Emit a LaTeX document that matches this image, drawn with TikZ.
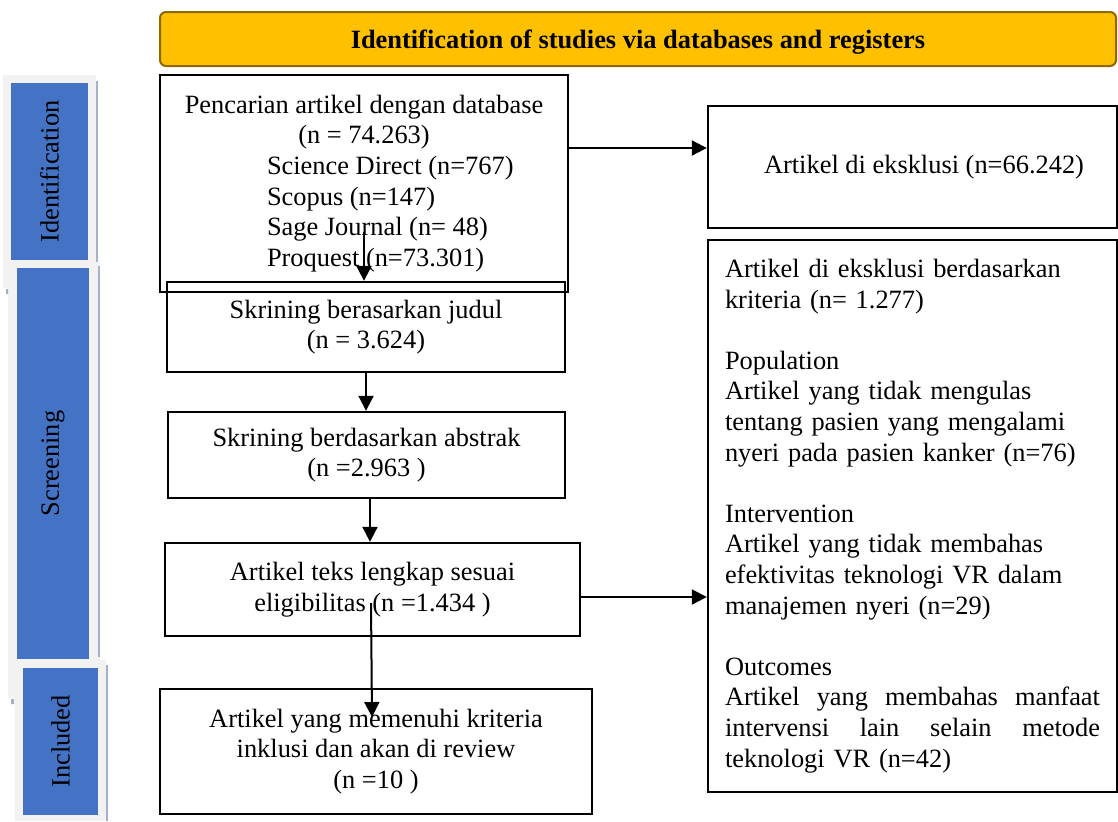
\documentclass[tikz,border=0pt]{standalone}
\usepackage{fontspec}
\setmainfont{Liberation Serif}
\usetikzlibrary{arrows.meta}
\definecolor{tabblue}{HTML}{4472C4}
\definecolor{tabpanel}{HTML}{F2F2F2}
\definecolor{tabedge}{HTML}{A4B1C8}
\definecolor{headfill}{HTML}{FFC000}
\definecolor{headedge}{HTML}{8C6A00}
\begin{document}
\begin{tikzpicture}[x=0.5pt, y=-0.5pt, font=\fontsize{13.2pt}{15.3pt}\selectfont, >={Triangle[length=7.5pt,width=7.5pt]},
		box/.style={draw, line width=1.2pt, inner sep=0pt, align=center},
		tab/.style={fill=tabblue, inner sep=0pt, rotate=90},
		arr/.style={->, line width=1pt}]
	\useasboundingbox (0,0) rectangle (1118,821);
	\fill[tabpanel] (3,75) rectangle (96,288);
	\fill[tabpanel] (8,262) rectangle (100,698);
	\fill[tabpanel] (15,660) rectangle (106,821);
	\node[tab, minimum width=88.5pt, minimum height=38.5pt] (ident) at (49.5,171.5) {Identification};
	\node[tab, minimum width=195.5pt, minimum height=36pt] (screen) at (53,463.5) {Screening};
	\node[tab, minimum width=73.5pt, minimum height=37.5pt] (inclu) at (60.5,741.5) {Included};
	\draw[tabedge, line width=1pt] (97,81)--(97,262) (99,266)--(99,657) (107,665)--(107,821);
	\fill[tabedge] (6,289) rectangle (8,294) (11,699) rectangle (14,704);
	\node[box, draw=headedge, fill=headfill, line width=1pt, rounded corners=3pt, minimum width=478pt, minimum height=27pt, font=\fontsize{13.2pt}{15.3pt}\selectfont\bfseries] (head) at (638,39) {\raisebox{-1.5pt}[\height][\depth]{Identification of studies via databases and registers}};
	\node[box, minimum width=204pt, minimum height=108.5pt] (search) at (364,183.5) {Pencarian artikel dengan database\\ (n = 74.263)\\ \makebox[97pt][l]{Science Direct (n=767)}\\ \makebox[97pt][l]{Scopus (n=147)}\\ \makebox[97pt][l]{Sage Journal (n= 48)}\\ \makebox[97pt][l]{Proquest (n=73.301)}};
	\node[box, minimum width=199pt, minimum height=45pt] (judul) at (366,327) {Skrining berasarkan judul\\ (n = 3.624)};
	\node[box, minimum width=198.5pt, minimum height=43pt] (abstrak) at (366.5,455) {Skrining berdasarkan abstrak\\ (n =2.963 )};
	\node[box, minimum width=207.5pt, minimum height=46.5pt] (teks) at (372.5,589.5) {Artikel teks lengkap sesuai\\ eligibilitas (n =1.434 )};
	\node[box, minimum width=216pt, minimum height=62.5pt] (incl) at (376,751.5) {Artikel yang memenuhi kriteria\\ inklusi dan akan di review\\ (n =10 )};
	\node[box, minimum width=204.5pt, minimum height=61pt] (excl) at (912.5,167) {\hspace*{11.5pt}Artikel di eksklusi (n=66.242)};
	\node[box, minimum width=204.5pt, minimum height=276pt, text width=187.5pt, align=left] (crit) at (912.5,516) {Artikel di eksklusi berdasarkan\\ kriteria (n= 1.277)\\[15.3pt]
		Population\\ Artikel yang tidak mengulas\\ tentang pasien yang mengalami\\ nyeri pada pasien kanker (n=76)\\[15.3pt]
		Intervention\\ Artikel yang tidak membahas\\ efektivitas teknologi VR dalam\\ manajemen nyeri (n=29)\\[15.3pt]
		Outcomes\\ \makebox[187.5pt][l]{Artikel\hfill yang\hfill membahas\hfill manfaat}\\ \makebox[187.5pt][l]{intervensi\hfill lain\hfill selain\hfill metode}\\ teknologi VR (n=42)};
	\coordinate (s1) at (364,232);
	\coordinate (t1) at (371,603);
	\coordinate (t2) at (372,717);
	\draw[arr] (search.east |- 0,148) -- (excl.west |- 0,148);
	\draw[arr] (s1) -- (s1 |- judul.north);
	\draw[arr] (judul.south) -- (judul.south |- abstrak.north);
	\draw[arr] ([xshift=1.75pt]abstrak.south) -- ([xshift=1.75pt]abstrak.south |- teks.north);
	\draw[arr] (teks.east |- 0,597) -- (crit.west |- 0,597);
	\draw[arr] (t1) -- (t2);
\end{tikzpicture}
\end{document}
